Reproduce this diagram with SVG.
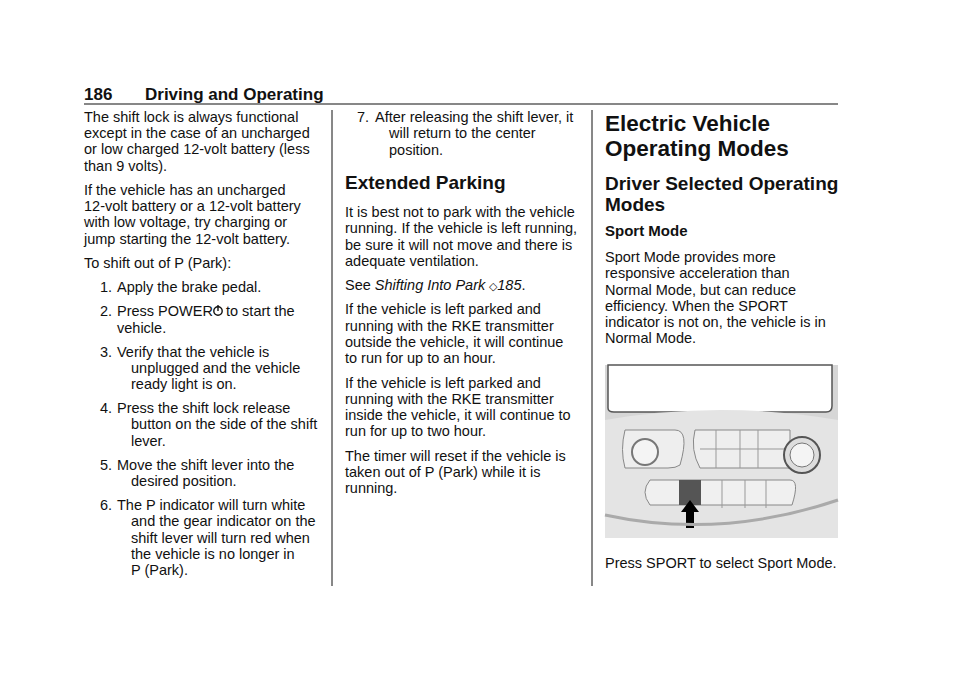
<svg xmlns="http://www.w3.org/2000/svg" width="960" height="678" viewBox="0 0 960 678">
<style>
text{font-family:"Liberation Sans",Arial,sans-serif;font-size:14.5px;fill:#111}
.h{font-weight:bold;font-size:19px}
.big{font-size:22.5px;font-weight:bold}
.hd{font-weight:bold;font-size:17px}
.s{font-weight:bold;font-size:15px}
</style>
<rect width="960" height="678" fill="#fff"/>
<text class="hd" x="84" y="100">186</text>
<text class="hd" x="145" y="100">Driving and Operating</text>
<line x1="84" y1="104" x2="838" y2="104" stroke="#111" stroke-width="1.2"/>
<line x1="332" y1="110" x2="332" y2="586" stroke="#111" stroke-width="1"/>
<line x1="592" y1="110" x2="592" y2="586" stroke="#111" stroke-width="1"/>
<g>
<text x="84" y="122">The shift lock is always functional</text>
<text x="84" y="138">except in the case of an uncharged</text>
<text x="84" y="154">or low charged 12-volt battery (less</text>
<text x="84" y="171">than 9 volts).</text>
<text x="84" y="195">If the vehicle has an uncharged</text>
<text x="84" y="211">12-volt battery or a 12-volt battery</text>
<text x="84" y="227">with low voltage, try charging or</text>
<text x="84" y="244">jump starting the 12-volt battery.</text>
<text x="84" y="268">To shift out of P (Park):</text>
<text x="100" y="292">1.</text><text x="117" y="292">Apply the brake pedal.</text>
<text x="100" y="316">2.</text><text x="117" y="316">Press POWER</text><circle cx="218" cy="311" r="4.2" fill="none" stroke="#111" stroke-width="1.4"/><line x1="218" y1="305" x2="218" y2="311" stroke="#111" stroke-width="1.4"/><text x="226" y="316">to start the</text>
<text x="117" y="333">vehicle.</text>
<text x="100" y="357">3.</text><text x="117" y="357">Verify that the vehicle is</text>
<text x="131" y="373">unplugged and the vehicle</text>
<text x="131" y="389">ready light is on.</text>
<text x="100" y="413">4.</text><text x="117" y="413">Press the shift lock release</text>
<text x="131" y="429">button on the side of the shift</text>
<text x="131" y="446">lever.</text>
<text x="100" y="470">5.</text><text x="117" y="470">Move the shift lever into the</text>
<text x="131" y="486">desired position.</text>
<text x="100" y="510">6.</text><text x="117" y="510">The P indicator will turn white</text>
<text x="131" y="526">and the gear indicator on the</text>
<text x="131" y="543">shift lever will turn red when</text>
<text x="131" y="559">the vehicle is no longer in</text>
<text x="131" y="575">P (Park).</text>
</g>
<g>
<text x="357" y="122">7.</text><text x="375" y="122">After releasing the shift lever, it</text>
<text x="389" y="138">will return to the center</text>
<text x="389" y="155">position.</text>
<text class="h" x="345" y="189">Extended Parking</text>
<text x="345" y="217">It is best not to park with the vehicle</text>
<text x="345" y="233">running. If the vehicle is left running,</text>
<text x="345" y="250">be sure it will not move and there is</text>
<text x="345" y="266">adequate ventilation.</text>
<text x="345" y="290">See <tspan font-style="italic">Shifting Into Park</tspan> <tspan font-size="11">◇</tspan><tspan font-style="italic">185</tspan>.</text>
<text x="345" y="314">If the vehicle is left parked and</text>
<text x="345" y="331">running with the RKE transmitter</text>
<text x="345" y="347">outside the vehicle, it will continue</text>
<text x="345" y="363">to run for up to an hour.</text>
<text x="345" y="388">If the vehicle is left parked and</text>
<text x="345" y="404">running with the RKE transmitter</text>
<text x="345" y="420">inside the vehicle, it will continue to</text>
<text x="345" y="436">run for up to two hour.</text>
<text x="345" y="461">The timer will reset if the vehicle is</text>
<text x="345" y="477">taken out of P (Park) while it is</text>
<text x="345" y="493">running.</text>
</g>
<g>
<text class="big" x="605" y="131">Electric Vehicle</text>
<text class="big" x="605" y="156">Operating Modes</text>
<text class="h" x="605" y="190">Driver Selected Operating</text>
<text class="h" x="605" y="211">Modes</text>
<text class="s" x="605" y="236">Sport Mode</text>
<text x="605" y="262">Sport Mode provides more</text>
<text x="605" y="278">responsive acceleration than</text>
<text x="605" y="295">Normal Mode, but can reduce</text>
<text x="605" y="311">efficiency. When the SPORT</text>
<text x="605" y="327">indicator is not on, the vehicle is in</text>
<text x="605" y="343">Normal Mode.</text>
<text x="605" y="568">Press SPORT to select Sport Mode.</text>
</g>
<g id="photo">
<rect x="605" y="365" width="233" height="173" fill="#d6d6d6"/>
<path d="M608 365 V408 Q608 412 614 412 H826 Q832 412 832 406 V365 Z" fill="#fff" stroke="#555" stroke-width="1.5"/>
<path d="M605 420 Q720 400 838 420 V538 H605 Z" fill="#e4e4e4"/>
<path d="M625 430 H675 Q690 430 680 465 Q676 468 668 468 H625 Q620 450 625 430 Z" fill="#eee" stroke="#888"/>
<circle cx="645" cy="452" r="13" fill="#f4f4f4" stroke="#777" stroke-width="2"/>
<path d="M695 430 H790 V468 H700 Q690 450 695 430 Z" fill="#eee" stroke="#888"/>
<line x1="716" y1="430" x2="716" y2="468" stroke="#999"/><line x1="740" y1="430" x2="740" y2="468" stroke="#999"/><line x1="758" y1="430" x2="758" y2="468" stroke="#999"/><line x1="700" y1="449" x2="790" y2="449" stroke="#999"/>
<circle cx="802" cy="455" r="18" fill="#ddd" stroke="#555" stroke-width="2"/>
<circle cx="802" cy="455" r="12" fill="#f4f4f4" stroke="#777"/>
<path d="M650 480 H790 Q800 480 792 505 H650 Q640 492 650 480 Z" fill="#f0f0f0" stroke="#888"/>
<rect x="679" y="480" width="22" height="25" fill="#555"/>
<line x1="722" y1="480" x2="722" y2="508" stroke="#999"/><line x1="745" y1="480" x2="745" y2="508" stroke="#999"/><line x1="766" y1="480" x2="766" y2="508" stroke="#999"/>
<path d="M690 500 L699 512 H694 V528 H686 V512 H681 Z" fill="#000"/>
<path d="M605 515 Q720 540 838 500" fill="none" stroke="#aaa" stroke-width="3"/>
</g>
</svg>
